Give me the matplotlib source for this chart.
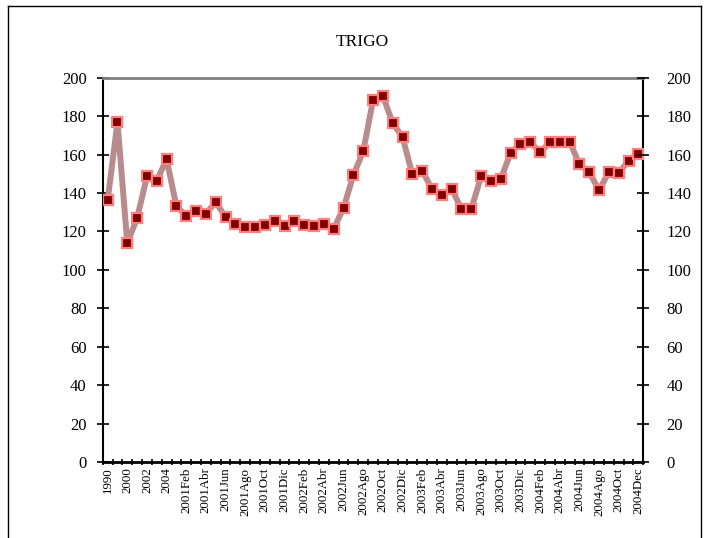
import matplotlib
matplotlib.use('Agg')
import matplotlib.pyplot as plt
from matplotlib.lines import Line2D

plt.rcParams['font.family'] = ['Liberation Serif', 'DejaVu Serif']

# categorias (anuales + mensuales)
years = ['1990', '1995', '2000', '2001', '2002', '2003', '2004']
months_2001 = ['2001Ene', '2001Feb', '2001Mar', '2001Abr', '2001May', '2001Jun',
               '2001Jul', '2001Ago', '2001Sep', '2001Oct', '2001Nov', '2001Dic']
months_2002 = ['2002Ene', '2002Feb', '2002Mar', '2002Abr', '2002May', '2002Jun',
               '2002Jul', '2002Ago', '2002Sep', '2002Oct', '2002Nov', '2002Dic']
months_2003 = ['2003Ene', '2003Feb', '2003Mar', '2003Abr', '2003May', '2003Jun',
               '2003Jul', '2003Ago', '2003Sep', '2003Oct', '2003Nov', '2003Dic']
months_2004 = ['2004Ene', '2004Feb', '2004Mar', '2004Abr', '2004May', '2004Jun',
               '2004Jul', '2004Ago', '2004Sep', '2004Oct', '2004Nov', '2004Dec']
categories = years + months_2001 + months_2002 + months_2003 + months_2004

# valores TRIGO
trigo = [136.1, 176.9, 113.9, 126.9, 148.6, 146.4, 157.6,
         133.0, 128.1, 130.4, 129.2, 135.3, 127.4, 123.9, 122.1, 122.1, 123.4, 125.5, 122.8,
         125.5, 123.4, 122.8, 124.0, 121.4, 132.1, 149.3, 161.6, 188.2, 190.6, 176.4, 169.1,
         149.8, 151.6, 142.0, 138.9, 142.2, 131.6, 131.8, 148.6, 146.0, 147.4, 160.8, 165.6,
         166.3, 161.3, 166.3, 166.7, 166.7, 155.0, 150.7, 141.5, 150.9, 150.4, 156.8, 160.3]

yticks = [0, 20, 40, 60, 80, 100, 120, 140, 160, 180, 200]

fig = plt.figure(figsize=(7.04, 5.38), dpi=100)
ax = fig.add_axes([0.1459, 0.1413, 0.7679, 0.7143])

x = list(range(len(trigo)))
ax.plot(x, trigo, color='#b88c8c', linewidth=4.3, solid_joinstyle='round', zorder=2)
ax.plot(x, trigo, linestyle='none', marker='s', markersize=6.5,
        markerfacecolor='#800000', markeredgecolor='#ff7f7f', markeredgewidth=1.6, zorder=3)

ax.set_xlim(-0.5, len(trigo) - 0.5)
ax.set_ylim(0, 200)

# eje y izquierdo
ax.set_yticks(yticks)
ax.tick_params(axis='y', which='major', direction='inout', length=9, width=1.2,
               left=True, right=False, labelsize=12, pad=7, colors='black')

# eje y derecho
ax2 = ax.twinx()
ax2.set_ylim(0, 200)
ax2.set_yticks(yticks)
ax2.tick_params(axis='y', which='major', direction='inout', length=9, width=1.2,
                labelsize=12, pad=12, colors='black')
for side in ['left', 'right', 'top', 'bottom']:
    ax2.spines[side].set_visible(False)

# etiquetas x cada dos categorias
ax.set_xticks(x[::2])
ax.set_xticklabels(categories[::2], rotation=90, fontsize=9.3)
ax.tick_params(axis='x', which='major', length=0, pad=4)
ax.set_xticks([i - 0.5 for i in range(len(trigo) + 1)], minor=True)
ax.tick_params(axis='x', which='minor', direction='inout', length=5, width=1.2)

for side in ['left', 'right']:
    ax.spines[side].set_linewidth(1.5)
    ax.spines[side].set_color('black')
ax.spines['bottom'].set_linewidth(2)
ax.spines['top'].set_color('#808080')
ax.spines['top'].set_linewidth(2)

fig.text(0.514, 0.922, 'TRIGO', ha='center', va='center', fontsize=12.5)

# marco del grafico
fx0, fx1 = 8 / 704, 701 / 704
fy1 = 1 - 6 / 538
for xs, ys in [([fx0, fx0], [0, fy1]), ([fx0, fx1], [fy1, fy1]), ([fx1, fx1], [fy1, 0])]:
    fig.add_artist(Line2D(xs, ys, transform=fig.transFigure, color='black', linewidth=1))

plt.savefig('out.png', dpi=100)
